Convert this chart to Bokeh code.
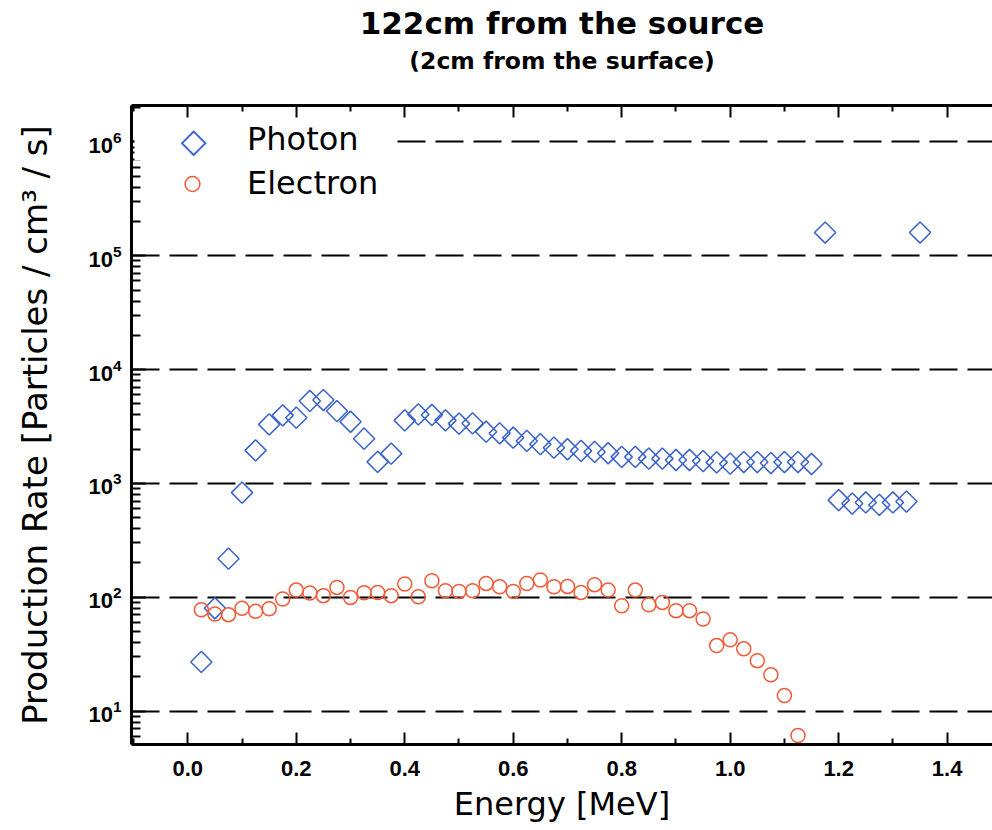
import math
from bokeh.plotting import figure
from bokeh.models import (Range1d, LinearAxis, FixedTicker, PrintfTickFormatter,
                          LogTickFormatter, Legend, LegendItem, Label, BoxAnnotation)
from bokeh.embed import file_html
from bokeh.resources import INLINE

# ---------------- data ----------------
photon_energy = [0.025, 0.05, 0.075, 0.1, 0.125, 0.15, 0.175, 0.2, 0.225, 0.25,
                 0.275, 0.3, 0.325, 0.35, 0.375, 0.4, 0.425, 0.45, 0.475, 0.5,
                 0.525, 0.55, 0.575, 0.6, 0.625, 0.65, 0.675, 0.7, 0.725, 0.75,
                 0.775, 0.8, 0.825, 0.85, 0.875, 0.9, 0.925, 0.95, 0.975, 1.0,
                 1.025, 1.05, 1.075, 1.1, 1.125, 1.15, 1.175, 1.2, 1.225, 1.25,
                 1.275, 1.3, 1.325, 1.35]
photon_rate = [27, 80, 218, 830, 1950, 3300, 3960, 3780, 5300, 5400,
               4320, 3480, 2470, 1545, 1825, 3580, 4040, 3990, 3580, 3350,
               3370, 2845, 2755, 2520, 2360, 2210, 2060, 1995, 1930, 1890,
               1840, 1710, 1710, 1650, 1650, 1605, 1605, 1570, 1530, 1490,
               1540, 1540, 1510, 1540, 1540, 1480, 160000, 713, 665, 680,
               647, 680, 692, 160000]

electron_energy = [0.025, 0.05, 0.075, 0.1, 0.125, 0.15, 0.175, 0.2, 0.225, 0.25,
                   0.275, 0.3, 0.325, 0.35, 0.375, 0.4, 0.425, 0.45, 0.475, 0.5,
                   0.525, 0.55, 0.575, 0.6, 0.625, 0.65, 0.675, 0.7, 0.725, 0.75,
                   0.775, 0.8, 0.825, 0.85, 0.875, 0.9, 0.925, 0.95, 0.975, 1.0,
                   1.025, 1.05, 1.075, 1.1, 1.125]
electron_rate = [77.6, 71.2, 70.2, 79.8, 75.1, 79.2, 96.4, 115.6, 108.9, 103.1,
                 121.9, 99.6, 109.5, 110.2, 103.1, 130.6, 100.9, 139.6, 114.0, 112.4,
                 114.0, 132.1, 123.6, 112.4, 132.0, 141.6, 123.6, 124.4, 110.2, 128.8,
                 115.6, 84.1, 115.6, 85.9, 90.0, 76.2, 76.2, 64.4, 37.6, 42.2,
                 35.2, 27.7, 20.8, 13.7, 6.1]

series_names = ["Photon", "Electron"]
title_text = "122cm from the source"
subtitle_text = "(2cm from the surface)"
x_major_ticks = [0.0, 0.2, 0.4, 0.6, 0.8, 1.0, 1.2, 1.4]
x_minor_ticks = [-0.1, 0.1, 0.3, 0.5, 0.7, 0.9, 1.1, 1.3]
y_major_ticks = [1e1, 1e2, 1e3, 1e4, 1e5, 1e6]
y_minor_ticks = [m * d for d in [1e0, 1e1, 1e2, 1e3, 1e4, 1e5, 1e6] for m in range(2, 10)]

BLUE = "#3a62cc"
ORANGE = "#f25a38"

p = figure(width=992, height=830, output_backend="svg", toolbar_location=None,
           y_axis_type="log",
           x_range=Range1d(-0.1038, 1.4836),
           y_range=Range1d(10 ** 0.706, 10 ** 6.32),
           min_border_left=131, min_border_right=0, min_border_top=104,
           min_border_bottom=86)
p.background_fill_color = "white"
p.border_fill_color = "white"
p.outline_line_color = None

# grid
p.xgrid.visible = False
p.ygrid.grid_line_color = "black"
p.ygrid.grid_line_width = 2
p.ygrid.grid_line_dash = "28 10"
p.ygrid.ticker = FixedTicker(ticks=y_major_ticks)

# x axis
xa = p.xaxis[0]
xa.ticker = FixedTicker(ticks=x_major_ticks, minor_ticks=x_minor_ticks)
xa.formatter = PrintfTickFormatter(format="%.1f")
xa.axis_label = "Energy [MeV]"

# y axis
ya = p.yaxis[0]
ya.ticker = FixedTicker(ticks=y_major_ticks, minor_ticks=y_minor_ticks)
ya.formatter = LogTickFormatter()
ya.axis_label = "Production Rate [Particles / cm³ / s]"

for ax in (xa, ya):
    ax.axis_line_width = 3
    ax.axis_line_color = "black"
    ax.major_tick_out = 0
    ax.minor_tick_out = 0
    ax.major_tick_line_width = 2
    ax.minor_tick_line_width = 2
    ax.major_label_text_font = "Liberation Sans"
    ax.major_label_text_font_style = "bold"
    ax.major_label_text_font_size = "22px"
    ax.major_label_text_color = "black"
    ax.axis_label_text_font = "DejaVu Sans"
    ax.axis_label_text_font_style = "normal"
    ax.axis_label_text_color = "black"

xa.major_tick_in = 12
xa.minor_tick_in = 6
xa.major_label_standoff = 16
xa.axis_label_standoff = 6
xa.axis_label_text_font_size = "32px"

ya.major_tick_in = 14
ya.minor_tick_in = 9
ya.major_label_standoff = 10
ya.axis_label_standoff = 30
ya.axis_label_text_font_size = "34px"

# top axis: ticks only (labels not drawn); carries the subtitle line
top = LinearAxis(ticker=FixedTicker(ticks=x_major_ticks, minor_ticks=x_minor_ticks),
                 major_label_text_color=None, major_label_text_alpha=0,
                 major_label_text_font_size="1px", major_label_standoff=0,
                 axis_line_width=3, major_tick_in=12, major_tick_out=0,
                 minor_tick_in=6, minor_tick_out=0,
                 major_tick_line_width=2, minor_tick_line_width=2,
                 axis_label=subtitle_text, axis_label_standoff=31,
                 axis_label_text_font="DejaVu Sans", axis_label_text_font_style="bold",
                 axis_label_text_font_size="23.5px", axis_label_text_color="black")
p.add_layout(top, "above")

p.title.text = title_text
p.title.align = "center"
p.title.offset = 6
p.title.standoff = 5
p.title.text_font = "DejaVu Sans"
p.title.text_font_style = "bold"
p.title.text_font_size = "31px"
p.title.text_color = "black"

# white patch behind the legend text (hides the grid line there)
mask = BoxAnnotation(left=3, right=265, bottom=584, top=624,
                     left_units="screen", right_units="screen",
                     bottom_units="screen", top_units="screen",
                     fill_color="white", fill_alpha=1, line_alpha=0)
p.add_layout(mask)

# data
r1 = p.scatter(photon_energy, photon_rate, marker="square", angle=math.pi / 4, size=15,
               fill_color=None, line_color=BLUE, line_width=1.5)
r2 = p.scatter(electron_energy, electron_rate, marker="circle", size=14,
               fill_color=None, line_color=ORANGE, line_width=1.5)
# transparent stand-in so the legend slot for Photon is empty (rotated symbol drawn as text)
r1_key = p.scatter(photon_energy, photon_rate, marker="square", size=15,
                   fill_alpha=0, line_alpha=0)

legend = Legend(items=[LegendItem(label=series_names[0], renderers=[r1_key]),
                       LegendItem(label=series_names[1], renderers=[r2])],
                location=(10, 542), orientation="vertical", margin=0, padding=8,
                spacing=6, glyph_width=102, glyph_height=37, label_height=37,
                label_standoff=4, label_text_font="DejaVu Sans",
                label_text_font_size="32px", label_text_color="black",
                border_line_color=None, background_fill_alpha=0)
p.add_layout(legend)

key = Label(x=62, y=605, x_units="screen", y_units="screen", text="◇",
            text_font="DejaVu Sans", text_font_size="34px", text_color=BLUE,
            text_align="center", text_baseline="middle")
p.add_layout(key)

open("out.html", "w").write(file_html(p, INLINE))
